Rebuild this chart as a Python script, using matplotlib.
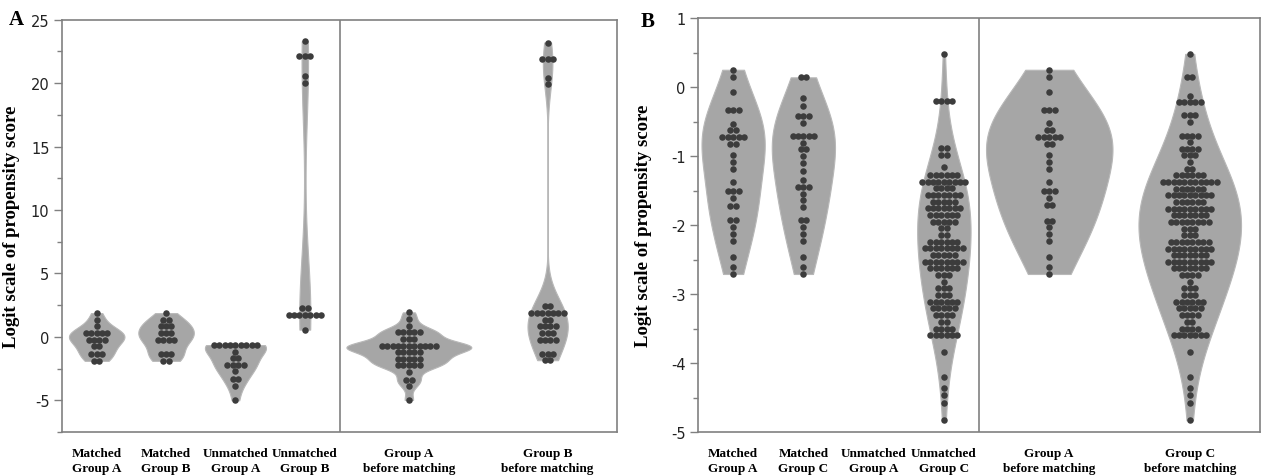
import numpy as np
import matplotlib
matplotlib.use("Agg")
import matplotlib.pyplot as plt
from matplotlib.ticker import MultipleLocator

plt.rcParams['axes.unicode_minus'] = False

# Panel A - dot rows (row value, number of dots in the row)
a_matched_a_y = [1.87, 1.35, 0.83, 0.31, -0.21, -0.73, -1.32, -1.89]
a_matched_a_n = [1, 1, 1, 5, 4, 2, 3, 2]
a_matched_b_y = [1.87, 1.35, 0.83, 0.31, -0.28, -1.32, -1.89]
a_matched_b_n = [1, 2, 3, 3, 4, 3, 2]
a_unmatched_a_y = [-0.65, -1.17, -1.68, -2.23, -2.72, -3.32, -3.89, -5.0]
a_unmatched_a_n = [9, 1, 2, 4, 1, 2, 1, 1]
a_unmatched_b_y = [23.3, 22.1, 20.6, 20.0, 2.25, 1.73, 0.57]
a_unmatched_b_n = [1, 3, 1, 1, 2, 7, 1]
a_before_a_y = [1.93, 1.4, 0.88, 0.36, -0.16, -0.73, -1.2, -1.72, -2.24, -2.8, -3.38, -3.9, -4.97]
a_before_a_n = [1, 1, 1, 5, 3, 11, 5, 5, 5, 1, 2, 1, 1]
a_before_b_y = [23.2, 21.9, 20.4, 19.9, 2.4, 1.87, 1.35, 0.83, 0.31, -0.28, -1.32, -1.84]
a_before_b_n = [1, 3, 1, 1, 2, 7, 2, 4, 3, 4, 3, 2]

a_labels = ["Matched\nGroup A", "Matched\nGroup B", "Unmatched\nGroup A",
            "Unmatched\nGroup B", "Group A\nbefore matching", "Group B\nbefore matching"]

# Panel B
b_matched_a_y = [0.25, 0.14, -0.07, -0.34, -0.53, -0.62, -0.72, -0.82, -0.99, -1.09, -1.19,
                 -1.37, -1.5, -1.61, -1.72, -1.93, -2.03, -2.13, -2.23, -2.47, -2.61, -2.71]
b_matched_a_n = [1, 1, 1, 3, 1, 2, 5, 2, 1, 1, 1, 1, 3, 1, 2, 2, 1, 1, 1, 1, 1, 1]
b_matched_c_y = [0.14, -0.16, -0.27, -0.42, -0.52, -0.71, -0.81, -0.9, -1.0, -1.1, -1.22, -1.35,
                 -1.45, -1.55, -1.64, -1.74, -1.93, -2.03, -2.13, -2.23, -2.46, -2.61, -2.71]
b_matched_c_n = [2, 1, 1, 3, 1, 5, 1, 2, 1, 1, 1, 1, 3, 1, 1, 1, 2, 1, 1, 1, 1, 1, 1]
b_unmatched_a_y = []
b_unmatched_a_n = []
b_unmatched_c_y = [0.48, -0.21, -0.88, -0.98, -1.16, -1.27, -1.37, -1.46, -1.56, -1.66, -1.75,
                   -1.85, -1.95, -2.04, -2.14, -2.24, -2.34, -2.43, -2.53, -2.62, -2.72, -2.82,
                   -2.91, -3.01, -3.11, -3.21, -3.3, -3.41, -3.5, -3.59, -3.84, -4.21, -4.36,
                   -4.47, -4.58, -4.83]
b_unmatched_c_n = [1, 4, 2, 2, 1, 6, 9, 4, 7, 5, 7, 6, 5, 2, 2, 6, 8, 5, 8, 6, 3, 1,
                   3, 3, 6, 5, 4, 2, 4, 6, 1, 1, 1, 1, 1, 1]
b_before_a_y = [0.25, 0.14, -0.07, -0.34, -0.52, -0.62, -0.72, -0.82, -0.99, -1.09, -1.19,
                -1.37, -1.5, -1.61, -1.71, -1.94, -2.03, -2.13, -2.23, -2.47, -2.61, -2.71]
b_before_a_n = [1, 1, 1, 3, 1, 2, 5, 2, 1, 1, 1, 1, 3, 1, 2, 2, 1, 1, 1, 1, 1, 1]
b_before_c_y = [0.48, 0.14, -0.13, -0.22, -0.41, -0.5, -0.71, -0.8, -0.9, -0.99, -1.09, -1.19,
                -1.28, -1.38, -1.48, -1.57, -1.67, -1.77, -1.86, -1.96, -2.06, -2.15, -2.25,
                -2.35, -2.44, -2.53, -2.63, -2.72, -2.82, -2.92, -3.01, -3.11, -3.21, -3.3,
                -3.41, -3.5, -3.59, -3.84, -4.21, -4.36, -4.47, -4.58, -4.83]
b_before_c_n = [1, 2, 1, 5, 3, 1, 4, 1, 4, 3, 1, 2, 6, 11, 6, 9, 6, 9, 7, 8, 3, 3, 8,
                9, 7, 9, 7, 4, 1, 3, 3, 6, 5, 4, 2, 4, 7, 1, 1, 1, 1, 1, 1]

b_labels = ["Matched\nGroup A", "Matched\nGroup C", "Unmatched\nGroup A",
            "Unmatched\nGroup C", "Group A\nbefore matching", "Group C\nbefore matching"]

# styling
positions = [0.5, 1.5, 2.5, 3.5, 5, 7]
violin_col = "#a6a6a6"
violin_edge = "#b8b8b8"
dot_col = "#3c3c3c"
frame_col = "#808080"
dot_step_px = 5.4

fig = plt.figure(figsize=(12.61, 4.77), dpi=100)
ax_a = fig.add_axes([62 / 1261, 1 - 433 / 477, 555 / 1261, (433 - 20.7) / 477])
ax_b = fig.add_axes([698 / 1261, 1 - 433 / 477, 562 / 1261, (433 - 19) / 477])


def draw_panel(ax, rows, widths, bws, labels, ax_px_width):
    dx = dot_step_px / (ax_px_width / 8.0)
    for i, (ys, ns) in enumerate(rows):
        if len(ys) == 0:
            continue
        vals = np.repeat(ys, ns)
        parts = ax.violinplot(vals, positions=[positions[i]], widths=widths[i],
                              bw_method=bws[i], showextrema=False, points=300)
        for body in parts['bodies']:
            body.set_facecolor(violin_col)
            body.set_edgecolor(violin_edge)
            body.set_linewidth(0.8)
            body.set_alpha(1)
        # dots stacked side by side in each row
        xs = []
        yy = []
        for v, n in zip(ys, ns):
            for k in range(n):
                xs.append(positions[i] + (k - (n - 1) / 2.0) * dx)
                yy.append(v)
        ax.scatter(xs, yy, s=22, color=dot_col, linewidths=0, zorder=3)

    ax.axvline(4, color=frame_col, lw=1.2)
    ax.set_xlim(0, 8)
    ax.set_xticks(positions)
    ax.set_xticklabels(labels, fontsize=9.5, fontweight="bold", family="Liberation Serif",
                       linespacing=1.35)
    ax.tick_params(axis="x", length=0, pad=11)
    ax.tick_params(axis="y", which="major", direction="out", length=6, width=1,
                   color=frame_col, labelsize=10.5, pad=3, labelcolor="#222222")
    ax.tick_params(axis="y", which="minor", direction="out", length=3.5, width=1,
                   color=frame_col)
    for s in ax.spines.values():
        s.set_color(frame_col)
        s.set_linewidth(1.2)
    ax.set_ylabel("Logit scale of propensity score", fontsize=13.5, fontweight="bold",
                  family="Liberation Serif")


rows_a = [(a_matched_a_y, a_matched_a_n), (a_matched_b_y, a_matched_b_n),
          (a_unmatched_a_y, a_unmatched_a_n), (a_unmatched_b_y, a_unmatched_b_n),
          (a_before_a_y, a_before_a_n), (a_before_b_y, a_before_b_n)]
draw_panel(ax_a, rows_a, [0.8, 0.8, 0.88, 0.16, 1.8, 0.58],
           [0.55, 0.55, None, 0.45, 0.3, 0.2], a_labels, 555)
ax_a.set_ylim(-7.5, 25)
ax_a.yaxis.set_major_locator(MultipleLocator(5))
ax_a.yaxis.set_minor_locator(MultipleLocator(2.5))
ax_a.set_yticks([-5, 0, 5, 10, 15, 20, 25])
ax_a.yaxis.set_label_coords(-0.076, 0.5)

rows_b = [(b_matched_a_y, b_matched_a_n), (b_matched_c_y, b_matched_c_n),
          (b_unmatched_a_y, b_unmatched_a_n), (b_unmatched_c_y, b_unmatched_c_n),
          (b_before_a_y, b_before_a_n), (b_before_c_y, b_before_c_n)]
draw_panel(ax_b, rows_b, [0.9, 0.9, 0.9, 0.76, 1.8, 1.46],
           [0.62, 0.62, None, 0.6, 0.7, 0.6], b_labels, 562)
ax_b.set_ylim(-5, 1)
ax_b.yaxis.set_major_locator(MultipleLocator(1))
ax_b.yaxis.set_minor_locator(MultipleLocator(0.5))
ax_b.yaxis.set_label_coords(-0.082, 0.5)

fig.text(16 / 1261, 1 - 20 / 477, "A", fontsize=15, fontweight="bold",
         family="Liberation Serif", ha="center", va="center")
fig.text(648 / 1261, 1 - 22 / 477, "B", fontsize=15, fontweight="bold",
         family="Liberation Serif", ha="center", va="center")

fig.savefig("out.png", dpi=100)
